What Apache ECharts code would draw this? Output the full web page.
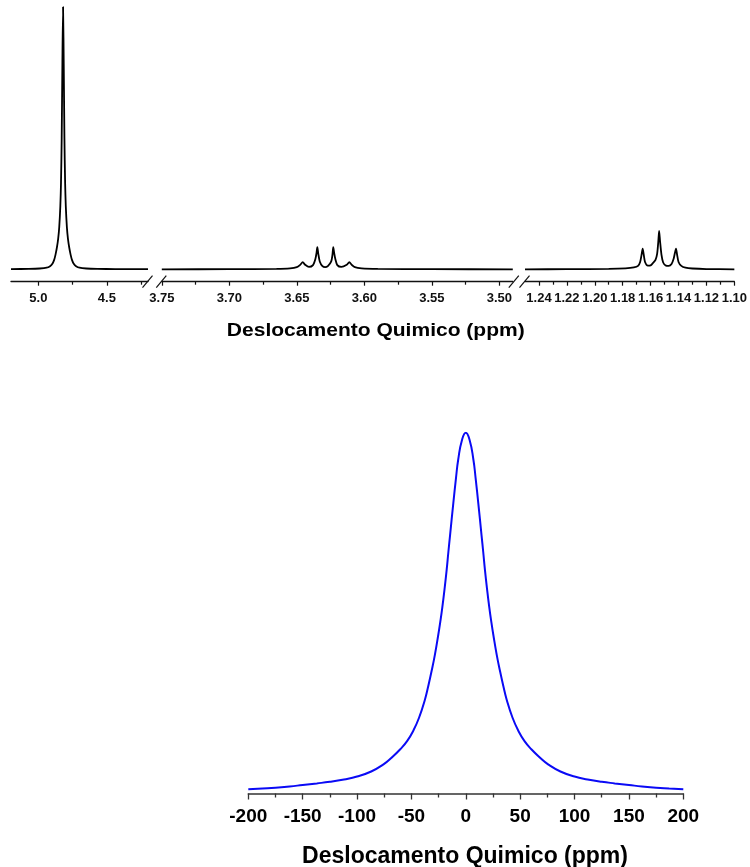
<!DOCTYPE html>
<html><head><meta charset="utf-8">
<script src="https://cdn.jsdelivr.net/npm/echarts@6/dist/echarts.min.js"></script>
<style>html,body{margin:0;padding:0;background:#fff}#c{width:750px;height:867px}</style>
</head><body><div id="c"></div>
<script>
// ---------- DATA ----------
// Top spectrum, segment 1 (water peak)
const seg1Shift = [5.2, 5.07, 4.99, 4.94, 4.915, 4.898, 4.885, 4.875, 4.865, 4.856, 4.848, 4.84, 4.835, 4.83, 4.825, 4.82, 4.815, 4.81, 4.805, 4.80, 4.792, 4.784, 4.775, 4.765, 4.755, 4.742, 4.725, 4.70, 4.65, 4.57, 4.44, 4.2];
const seg1Intensity = [0.08, 0.15, 0.3, 0.6, 1.2, 2.1, 3.6, 5.6, 8.3, 11.5, 16, 24, 33, 50, 78, 100, 78, 50, 33, 24, 16, 11.5, 8.3, 5.6, 3.6, 2.1, 1.2, 0.6, 0.3, 0.15, 0.08, 0.05];
// Top spectrum, segment 2 (quartet)
const seg2Shift = [3.75, 3.70, 3.665, 3.655, 3.650, 3.6475, 3.6456, 3.6438, 3.641, 3.638, 3.6362, 3.6354, 3.6348, 3.6341, 3.633, 3.631, 3.629, 3.627, 3.6245, 3.6236, 3.6230, 3.6223, 3.6215, 3.620, 3.617, 3.613, 3.6111, 3.6093, 3.607, 3.602, 3.59, 3.55, 3.49];
const seg2Intensity = [0, 0.05, 0.15, 0.35, 0.8, 1.7, 2.7, 1.7, 0.9, 1.6, 4, 6.2, 8.4, 6, 3, 1.2, 0.8, 1.2, 3, 5.5, 8.4, 6.2, 4, 1.6, 0.9, 1.7, 2.7, 1.7, 0.8, 0.35, 0.15, 0.05, 0];
// Top spectrum, segment 3 (triplet)
const seg3Shift = [1.25, 1.22, 1.19, 1.178, 1.172, 1.169, 1.1675, 1.1665, 1.1657, 1.1649, 1.164, 1.162, 1.160, 1.158, 1.1565, 1.1553, 1.1545, 1.1539, 1.1532, 1.1522, 1.151, 1.149, 1.147, 1.145, 1.1435, 1.1426, 1.1418, 1.141, 1.14, 1.138, 1.135, 1.13, 1.12, 1.10];
const seg3Intensity = [0, 0.05, 0.15, 0.35, 0.7, 1.3, 2.8, 5.5, 7.9, 5.5, 2.8, 1.4, 1.5, 2.6, 3.6, 6, 10.5, 14.6, 10.5, 5.5, 2.6, 1.4, 1.3, 2, 4, 6.2, 7.9, 5.5, 2.8, 1.3, 0.6, 0.3, 0.1, 0];
// Bottom spectrum
const blueShift = [-200, -187, -175, -162, -150, -137, -125, -112, -100, -87, -76, -68, -60.5, -54, -48.3, -43, -37.6, -34.5, -31.4, -28.4, -25.3, -23.5, -21.6, -19.5, -17.6, -16, -14.5, -11.5, -9, -7, -3.5, 0,
  3.5, 7, 9, 11.5, 14.5, 16, 17.6, 19.5, 21.6, 23.5, 25.3, 28.4, 31.4, 34.5, 37.6, 43, 48.3, 54, 60.5, 68, 76, 87, 100, 112, 125, 137, 150, 162, 175, 187, 200];
const blueIntensity = [1.2, 1.4, 1.6, 1.95, 2.36, 2.8, 3.25, 3.9, 4.7, 6.1, 8, 10, 12.2, 14.5, 17.4, 21, 26, 29.8, 34, 38.5, 44, 47.5, 51.6, 56.8, 62, 67, 71.5, 80.4, 87.5, 92.5, 98, 100,
  98, 92.5, 87.5, 80.4, 71.5, 67, 62, 56.8, 51.6, 47.5, 44, 38.5, 34, 29.8, 26, 21, 17.4, 14.5, 12.2, 10, 8, 6.1, 4.7, 3.9, 3.25, 2.8, 2.36, 1.95, 1.6, 1.4, 1.2];
// Tick values
const seg1MajorTicks = [5.0, 4.5];
const seg1MinorTicks = [4.75, 4.25];
const seg2MajorTicks = [3.75, 3.70, 3.65, 3.60, 3.55, 3.50];
const seg2MinorTicks = [3.725, 3.675, 3.625, 3.575, 3.525];
const seg3MajorTicks = [1.24, 1.22, 1.20, 1.18, 1.16, 1.14, 1.12, 1.10];
const seg3MinorTicks = [1.23, 1.21, 1.19, 1.17, 1.15, 1.13, 1.11];
const axisTitle = 'Deslocamento Quimico (ppm)';

// ---------- CHART ----------
const FONT = 'Arial, "Liberation Sans", sans-serif';
const zip = (a, b) => a.map((v, i) => [v, b[i]]);
const chart = echarts.init(document.getElementById('c'), null, {renderer: 'canvas'});

const TOP = 7, TOP_H = 274.7;
const segs = [
  {left: 11, width: 137, min: 4.2, max: 5.2, major: seg1MajorTicks, minor: seg1MinorTicks, dec: 1, sx: seg1Shift, sy: seg1Intensity},
  {left: 161.8, width: 351, min: 3.49, max: 3.75, major: seg2MajorTicks, minor: seg2MinorTicks, dec: 2, sx: seg2Shift, sy: seg2Intensity},
  {left: 525, width: 211.5, min: 1.10, max: 1.25, major: seg3MajorTicks, minor: seg3MinorTicks, dec: 2, sx: seg3Shift, sy: seg3Intensity}
];
const grid = [], xAxis = [], yAxis = [], series = [];
segs.forEach((s, i) => {
  grid.push({left: s.left, width: s.width, top: TOP, height: TOP_H, containLabel: false});
  yAxis.push({type: 'value', gridIndex: i, min: -4.73, max: 100, show: false});
});
segs.forEach((s, i) => {
  xAxis.push({
    type: 'value', gridIndex: i, min: s.min, max: s.max, inverse: true, position: 'bottom',
    axisLine: {show: true, onZero: false, lineStyle: {color: '#111', width: 1.3}},
    axisTick: {show: true, length: 4, lineStyle: {color: '#111', width: 1.2}, customValues: s.major},
    axisLabel: {show: true, customValues: s.major, margin: 10, color: '#111', fontFamily: FONT, fontWeight: 'bold', fontSize: 13,
      formatter: v => Number(v).toFixed(s.dec), showMinLabel: true, showMaxLabel: true, hideOverlap: false},
    splitLine: {show: false}
  });
});
segs.forEach((s, i) => {
  xAxis.push({
    type: 'value', gridIndex: i, min: s.min, max: s.max, inverse: true, position: 'bottom', offset: 0,
    axisLine: {show: false, onZero: false},
    axisTick: {show: true, length: 3, lineStyle: {color: '#111', width: 1.2}, customValues: s.minor},
    axisLabel: {show: false},
    splitLine: {show: false}
  });
});
segs.forEach((s, i) => {
  series.push({type: 'line', xAxisIndex: i, yAxisIndex: i, data: zip(s.sx, s.sy), showSymbol: false, smooth: 0.25,
    lineStyle: {color: '#000', width: 1.8}, silent: true, animation: false, clip: true});
});
// bottom
grid.push({left: 248.3, width: 435, top: 432.7, height: 360.8});
yAxis.push({type: 'value', gridIndex: 3, min: 0, max: 100, show: false});
xAxis.push({
  type: 'value', gridIndex: 3, min: -200, max: 200, interval: 50, position: 'bottom',
  axisLine: {show: true, onZero: false, lineStyle: {color: '#333', width: 1.5}},
  axisTick: {show: true, length: 6, lineStyle: {color: '#333', width: 1.3}},
  minorTick: {show: true, splitNumber: 2, length: 4, lineStyle: {color: '#333', width: 1.3}},
  axisLabel: {margin: 14, color: '#000', fontFamily: FONT, fontWeight: 'bold', fontSize: 19, formatter: v => String(v)},
  splitLine: {show: false}
});
series.push({type: 'line', xAxisIndex: 6, yAxisIndex: 3, data: zip(blueShift, blueIntensity), showSymbol: false, smooth: 0.5,
  lineStyle: {color: '#0A0AF5', width: 2}, silent: true, animation: false});

chart.setOption({
  animation: false,
  backgroundColor: '#fff',
  grid, xAxis, yAxis, series
});

// Axis break marks at segment joins + axis titles
const axisY = TOP + TOP_H;
function slash(x) {
  return {type: 'line', shape: {x1: x - 5, y1: axisY + 6, x2: x + 5, y2: axisY - 6}, style: {stroke: '#111', lineWidth: 1.2}, z: 100};
}
const graphic = [
  {type: 'text', x: 375.8, y: 331, scaleX: 1.168, style: {text: axisTitle, x: 0, y: 0, textAlign: 'center', textVerticalAlign: 'middle', font: 'bold 18px ' + FONT, fill: '#000'}},
  {type: 'text', x: 465, y: 856.5, style: {text: axisTitle, x: 0, y: 0, textAlign: 'center', textVerticalAlign: 'middle', font: 'bold 23px ' + FONT, fill: '#000'}},
  slash(chart.convertToPixel({xAxisIndex: 0}, segs[0].min) - 0.5),
  slash(chart.convertToPixel({xAxisIndex: 1}, segs[1].max) - 0.5),
  slash(chart.convertToPixel({xAxisIndex: 1}, segs[1].min) + 1),
  slash(chart.convertToPixel({xAxisIndex: 2}, segs[2].max) - 0.5)
];
chart.setOption({graphic: graphic});
</script></body></html>
